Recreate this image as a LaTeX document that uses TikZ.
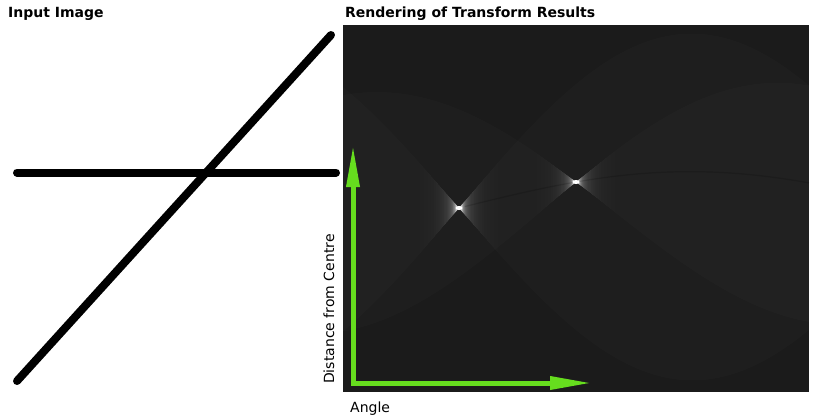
\documentclass[tikz,border=0pt]{standalone}
\usepackage{fontspec}
\setmainfont{DejaVu Sans}
\usetikzlibrary{arrows.meta}
\definecolor{panelbg}{RGB}{27,27,27}
\definecolor{axisgreen}{RGB}{102,221,30}
% #1 T0 (deg), #2 R0, #3 Sa, #4 Sb, #5 delta, #6 opacity
\newcommand{\houghwedge}[6]{%
  \pgfmathsetmacro\hlo{#5>=89 ? -1 : max(#1-#5,-1)}%
  \pgfmathsetmacro\hhi{#5>=89 ? 181 : min(#1+#5,181)}%
  \fill[white, fill opacity=#6]
    plot[domain=\hlo:\hhi, samples=70, variable=\t]
      ({343+\t*2.588889},{208.5+(#2)*cos(\t-#1)+(#3)*sin(\t-#1)})
    -- plot[domain=\hhi:\hlo, samples=70, variable=\t]
      ({343+\t*2.588889},{208.5+(#2)*cos(\t-#1)+(#4)*sin(\t-#1)})
    -- cycle;}
\begin{document}
\begin{tikzpicture}[x=1pt,y=-1pt,
  title/.style={font=\bfseries\fontsize{14}{16}\selectfont, anchor=base west, inner sep=0pt},
  axislabel/.style={font=\fontsize{14}{16}\selectfont, anchor=base west, inner sep=0pt},
  stroke/.style={line width=8pt, line cap=round, draw=black},
  axisarrow/.style={line width=5pt, draw=axisgreen, line cap=rect,
    -{Triangle[length=42pt,width=12.5pt]}},
]
\useasboundingbox (0,0) rectangle (835,420);
\fill[white] (0,0) rectangle (835,420);

% titles
\node[title] (t1) at (8,17.7) {Input Image};
\node[title] (t2) at (345,17.7) {Rendering of Transform Results};

% input image lines
\coordinate (dA) at (17,381);
\coordinate (dB) at (331,35);
\coordinate (hA) at (17,172.5);
\coordinate (hB) at (336,172.5);
\draw[stroke] (dA) -- (dB);
\draw[stroke] (hA) -- (hB);

% transform panel
\coordinate (p1) at (343,25);
\coordinate (p2) at (809,392);
\fill[panelbg] (p1) rectangle (p2);
\begin{scope}
  \clip (p1) rectangle (p2);
  \foreach \i in {0,...,41}{
    \pgfmathsetmacro\dcur{90*0.9^\i}
    \pgfmathsetmacro\dprev{90*0.9^(\i-1)}
    \pgfmathsetmacro\bprev{\i==0 ? 0 : 3.6/sin(\dprev)}
    \pgfmathsetmacro\bcur{3.6/sin(\dcur)}
    \pgfmathsetmacro\aa{min(1,(\bcur-\bprev)/(227-\bprev))}
    \houghwedge{44.8}{-0.5}{172}{-175}{\dcur}{\aa}
    \houghwedge{90}{-26.5}{113.5}{-123}{\dcur}{\aa}
  }
  % deficit curve through both peaks
  \draw[black, opacity=0.15, line width=1.2pt]
    plot[domain=47:180, samples=80, variable=\t]
      ({343+\t*2.588889},{208.5+25.6*cos(\t)-26.5*sin(\t)});
  \fill[white] (459,208) ellipse [x radius=3.5pt, y radius=2pt];
  \fill[white] (576,182) ellipse [x radius=3.5pt, y radius=2pt];
\end{scope}

% axes
\coordinate (o) at (353,383);
\coordinate (yt) at (353,145);
\coordinate (xt) at (592,383);
\draw[axisarrow] (o) -- (yt);
\draw[axisarrow] (o) -- (xt);

\node[axislabel] (ang) at (350,412) {Angle};
\node[axislabel, rotate=90] (dist) at (334,384) {Distance from Centre};
\end{tikzpicture}
\end{document}
